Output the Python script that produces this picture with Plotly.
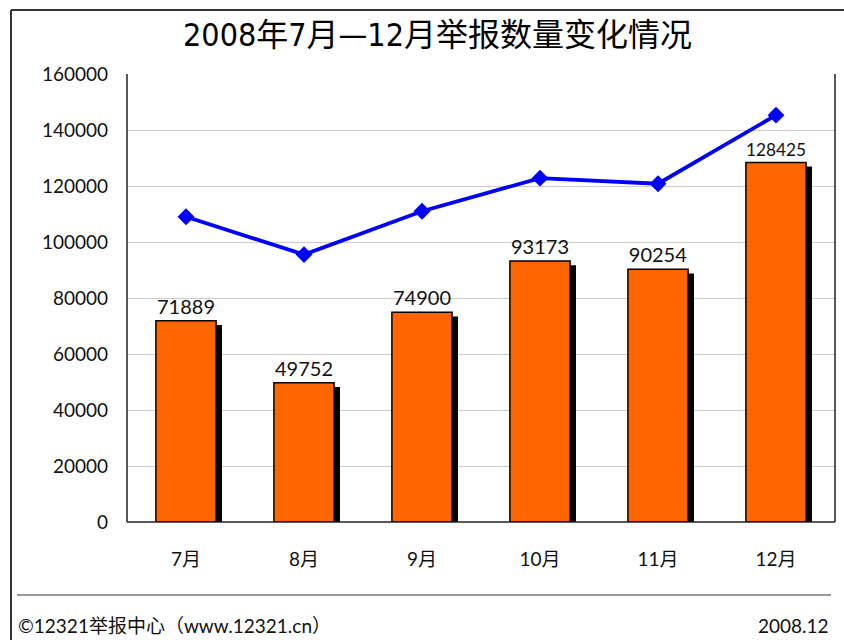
import plotly.graph_objects as go

months = ["7月", "8月", "9月", "10月", "11月", "12月"]
reports = [71889, 49752, 74900, 93173, 90254, 128425]
trend = [109000, 95500, 111000, 122800, 120800, 145300]
y_ticks = [0, 20000, 40000, 60000, 80000, 100000, 120000, 140000, 160000]

title_text = "2008年7月—12月举报数量变化情况"
footer_left = "©12321举报中心（www.12321.cn）"
footer_right = "2008.12"

FONT = "Lato, 'Noto Sans CJK SC', sans-serif"
BAR_W = 0.51
SHADOW_DX = 0.05
SHADOW_DY = 1500

fig = go.Figure()

# shadow bars
fig.add_trace(go.Bar(
    x=months, y=[v - SHADOW_DY for v in reports],
    width=BAR_W, offset=-BAR_W / 2 + SHADOW_DX,
    marker=dict(color="black", line=dict(width=0)),
    hoverinfo="skip", showlegend=False,
))
# main bars
fig.add_trace(go.Bar(
    x=months, y=reports,
    width=BAR_W, offset=-BAR_W / 2,
    marker=dict(color="#FF6600", line=dict(color="black", width=1.5)),
    text=[str(v) for v in reports], textposition="outside",
    textfont=dict(family=FONT, size=20, color="#111111"),
    cliponaxis=False, showlegend=False,
))
# trend line
fig.add_trace(go.Scatter(
    x=months, y=trend, mode="lines+markers",
    line=dict(color="#0000FF", width=3.8),
    marker=dict(symbol="diamond", size=13, color="#0000FF"),
    showlegend=False,
))

def px(xp):
    return (xp - 127) / 708.0

def py(yp):
    return (522 - yp) / 448.0

shapes = [
    # plot frame
    dict(type="line", xref="paper", yref="paper", x0=0, x1=0, y0=0, y1=1,
         line=dict(color="#222222", width=1.5)),
    dict(type="line", xref="paper", yref="paper", x0=1, x1=1, y0=0, y1=1,
         line=dict(color="#222222", width=1.5)),
    dict(type="line", xref="paper", yref="paper", x0=0, x1=1, y0=0, y1=0,
         line=dict(color="#222222", width=1.5)),
    # outer frame top and left
    dict(type="line", xref="paper", yref="paper", x0=px(11), x1=px(844), y0=py(10), y1=py(10),
         line=dict(color="#333333", width=2)),
    dict(type="line", xref="paper", yref="paper", x0=px(11), x1=px(11), y0=py(10), y1=py(640),
         line=dict(color="#333333", width=2)),
    # footer separator
    dict(type="line", xref="paper", yref="paper", x0=px(17), x1=px(831), y0=py(595), y1=py(595),
         line=dict(color="#333333", width=1.2)),
]

annotations = [
    dict(text=title_text, xref="paper", yref="paper", x=px(437), y=py(35),
         xanchor="center", yanchor="middle", showarrow=False,
         font=dict(family="'DejaVu Sans Condensed', 'Noto Sans CJK SC', sans-serif", size=32, color="black")),
    dict(text=footer_left, xref="paper", yref="paper", x=px(16), y=py(625),
         xanchor="left", yanchor="middle", showarrow=False,
         font=dict(family=FONT, size=19, color="#111111")),
    dict(text=footer_right, xref="paper", yref="paper", x=px(831), y=py(625),
         xanchor="right", yanchor="middle", showarrow=False,
         font=dict(family=FONT, size=19, color="#111111")),
]

fig.update_layout(
    width=844, height=640,
    margin=dict(l=127, r=9, t=74, b=118),
    paper_bgcolor="white", plot_bgcolor="white",
    barmode="overlay", bargap=0.49,
    hovermode=False,
    shapes=shapes, annotations=annotations,
    xaxis=dict(
        type="category", showgrid=False, showline=False, ticks="",
        tickfont=dict(family=FONT, size=19, color="#111111"),
        ticklabelstandoff=24,
    ),
    yaxis=dict(
        range=[0, 160000], tickvals=y_ticks, ticktext=[str(v) for v in y_ticks],
        showgrid=True, gridcolor="#CCCCCC", gridwidth=1,
        showline=False, zeroline=False, ticks="",
        tickfont=dict(family=FONT, size=19, color="#111111"),
        ticklabelstandoff=18,
    ),
)

fig.write_html(
    "out.html",
    config={"displayModeBar": False, "staticPlot": True},
    post_script="document.body.style.margin='0';document.body.style.overflow='hidden';",
)
